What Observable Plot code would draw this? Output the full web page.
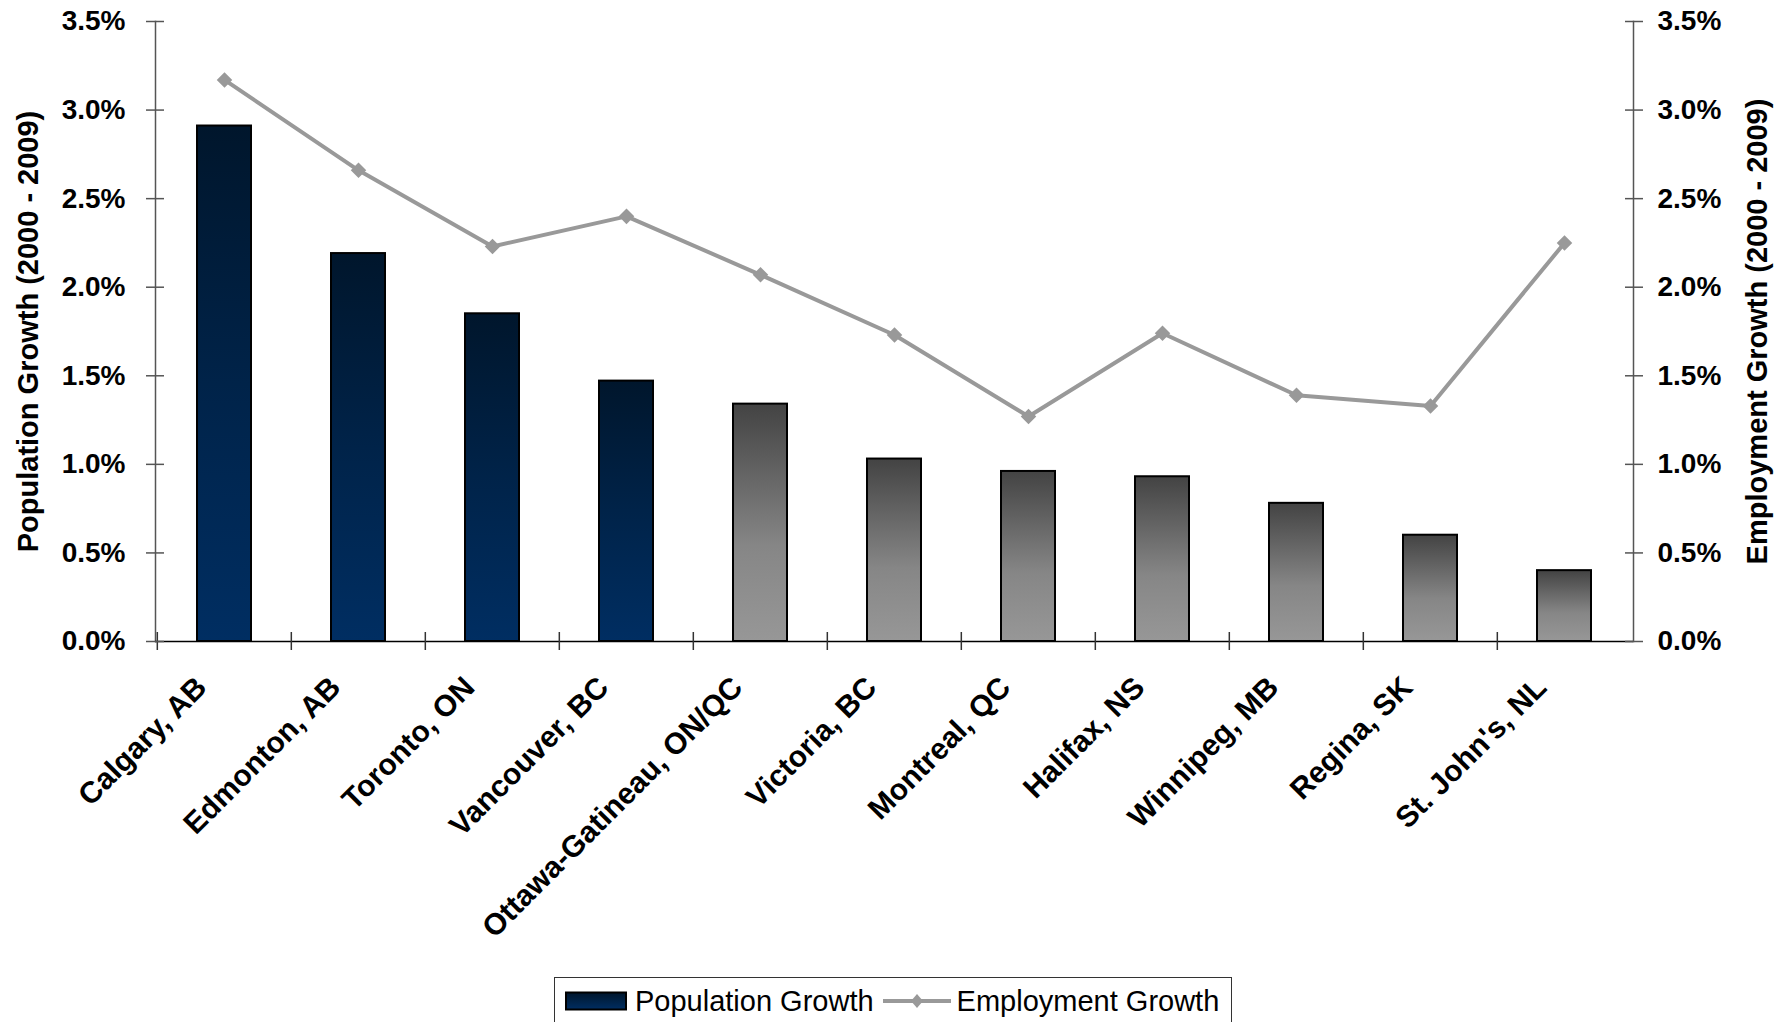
<!DOCTYPE html>
<html>
<head>
<meta charset="utf-8">
<script src="https://cdn.jsdelivr.net/npm/d3@7"></script>
<script src="https://cdn.jsdelivr.net/npm/@observablehq/plot@0.6"></script>
<style>
  html, body { margin: 0; padding: 0; background: #fff; overflow: hidden; }
  body { font-family: "Liberation Sans", Arial, sans-serif; width: 1789px; height: 1022px; position: relative; }
  #chart { position: absolute; left: 0; top: 0; }
  #legend {
    position: absolute; left: 554px; top: 977px; width: 678px; height: 54px;
    box-sizing: border-box; border: 1px solid #333; background: #fff;
    display: flex; align-items: center; padding-left: 10px; padding-bottom: 6px;
    font-size: 29px; color: #000; white-space: nowrap;
  }
  #legend .item { display: flex; align-items: center; }
  #legend svg { display: block; }
</style>
</head>
<body>
<div id="chart"></div>
<div id="legend"></div>
<script>
// ---- Data ----
const cities = ["Calgary, AB", "Edmonton, AB", "Toronto, ON", "Vancouver, BC", "Ottawa-Gatineau, ON/QC",
  "Victoria, BC", "Montreal, QC", "Halifax, NS", "Winnipeg, MB", "Regina, SK", "St. John's, NL"];
const populationGrowth = [2.91, 2.19, 1.85, 1.47, 1.34, 1.03, 0.96, 0.93, 0.78, 0.60, 0.40];
const employmentGrowth = [3.17, 2.66, 2.23, 2.40, 2.07, 1.73, 1.27, 1.74, 1.39, 1.33, 2.25];
const highlightedCities = ["Calgary, AB", "Edmonton, AB", "Toronto, ON", "Vancouver, BC"];
const yTicks = [0, 0.5, 1.0, 1.5, 2.0, 2.5, 3.0, 3.5];
const seriesNames = ["Population Growth", "Employment Growth"];
const leftTitle = "Population Growth (2000 - 2009)";
const rightTitle = "Employment Growth (2000 - 2009)";

// ---- Layout ----
const W = 1789, H = 960;
const mL = 155, mR = 156, mT = 21, mB = 319;
const step = (W - mL - mR) / cities.length;
const fmt = d => d.toFixed(1) + "%";
const FONT = "Liberation Sans, Arial, sans-serif";

const data = cities.map((c, i) => ({city: c, pop: populationGrowth[i], emp: employmentGrowth[i]}));
const isHi = d => highlightedCities.includes(d.city);

const plot = Plot.plot({
  width: W, height: H,
  marginLeft: mL, marginRight: mR, marginTop: mT, marginBottom: mB,
  style: {fontFamily: FONT, background: "transparent", color: "#000", overflow: "visible"},
  x: {domain: cities, paddingInner: 0.6, paddingOuter: 0.3, axis: null},
  y: {domain: [0, 3.5], axis: null},
  marks: [
    // bars
    Plot.barY(data.filter(isHi), {x: "city", y: "pop", fill: "url(#navyGrad)", stroke: "#000", strokeWidth: 2}),
    Plot.barY(data.filter(d => !isHi(d)), {x: "city", y: "pop", fill: "url(#grayGrad)", stroke: "#000", strokeWidth: 2}),
    // axis lines
    Plot.frame({anchor: "left", stroke: "#555", strokeWidth: 1.5}),
    Plot.frame({anchor: "right", stroke: "#555", strokeWidth: 1.5}),
    Plot.ruleY([0], {stroke: "#000", strokeWidth: 1.5}),
    // category boundary ticks
    Plot.ruleX(cities, {x: d => d, y1: 0, y2: 0, insetTop: -9, insetBottom: -9, dx: -step / 2, stroke: "#333", strokeWidth: 1.5}),
    // y tick marks (crossing)
    Plot.axisY({anchor: "left", ticks: yTicks, tickSize: 18, dx: 9, tickFormat: () => "", label: null, stroke: "#555", strokeWidth: 1.5}),
    Plot.axisY({anchor: "right", ticks: yTicks, tickSize: 18, dx: -9, tickFormat: () => "", label: null, stroke: "#555", strokeWidth: 1.5}),
    // y tick labels
    Plot.axisY({anchor: "left", ticks: yTicks, tickSize: 0, tickPadding: 30, tickFormat: fmt, label: null, fontSize: 28, fontWeight: "bold"}),
    Plot.axisY({anchor: "right", ticks: yTicks, tickSize: 0, tickPadding: 24, tickFormat: fmt, label: null, fontSize: 28, fontWeight: "bold"}),
    // x labels
    Plot.axisX({anchor: "bottom", tickRotate: -45, tickSize: 0, tickPadding: 30, dx: -23, dy: 11, label: null, fontSize: 30, fontWeight: "bold"}),
    // line
    Plot.line(data, {x: "city", y: "emp", stroke: "#999", strokeWidth: 4}),
    Plot.dot(data, {x: "city", y: "emp", symbol: "diamond2", r: 7, fill: "#999", stroke: "none"}),
    // axis titles
    Plot.text([leftTitle], {text: d => d, frameAnchor: "left", textAnchor: "middle", rotate: -90, dx: -127, fontSize: 29, fontWeight: "bold"}),
    Plot.text([rightTitle], {text: d => d, frameAnchor: "right", textAnchor: "middle", rotate: -90, dx: 124, fontSize: 29, fontWeight: "bold"})
  ]
});

const defs = d3.select(plot).insert("defs", ":first-child");
const navy = defs.append("linearGradient").attr("id", "navyGrad").attr("x1", 0).attr("y1", 0).attr("x2", 0).attr("y2", 1);
navy.append("stop").attr("offset", "0%").attr("stop-color", "#00162c");
navy.append("stop").attr("offset", "50%").attr("stop-color", "#002349");
navy.append("stop").attr("offset", "100%").attr("stop-color", "#002e62");
const gray = defs.append("linearGradient").attr("id", "grayGrad").attr("x1", 0).attr("y1", 0).attr("x2", 0).attr("y2", 1);
gray.append("stop").attr("offset", "0%").attr("stop-color", "#434343");
gray.append("stop").attr("offset", "60%").attr("stop-color", "#868686");
gray.append("stop").attr("offset", "100%").attr("stop-color", "#979797");

document.getElementById("chart").appendChild(plot);

// ---- Legend ----
const legend = document.getElementById("legend");
legend.innerHTML = `
  <div class="item">
    <svg width="62" height="20" style="margin-right:8px">
      <defs><linearGradient id="lgNavy" x1="0" y1="0" x2="0" y2="1">
        <stop offset="0%" stop-color="#00162c"/><stop offset="100%" stop-color="#002e62"/></linearGradient></defs>
      <rect x="1" y="1.5" width="60" height="17" fill="url(#lgNavy)" stroke="#000" stroke-width="2"/>
    </svg>
    <span>${seriesNames[0]}</span>
  </div>
  <div class="item" style="margin-left:9px">
    <svg width="68" height="20" style="margin-right:6px">
      <line x1="0" y1="10" x2="68" y2="10" stroke="#999" stroke-width="4"/>
      <path d="M34,3 L40,10 L34,17 L28,10 Z" fill="#999"/>
    </svg>
    <span>${seriesNames[1]}</span>
  </div>`;
</script>
</body>
</html>
